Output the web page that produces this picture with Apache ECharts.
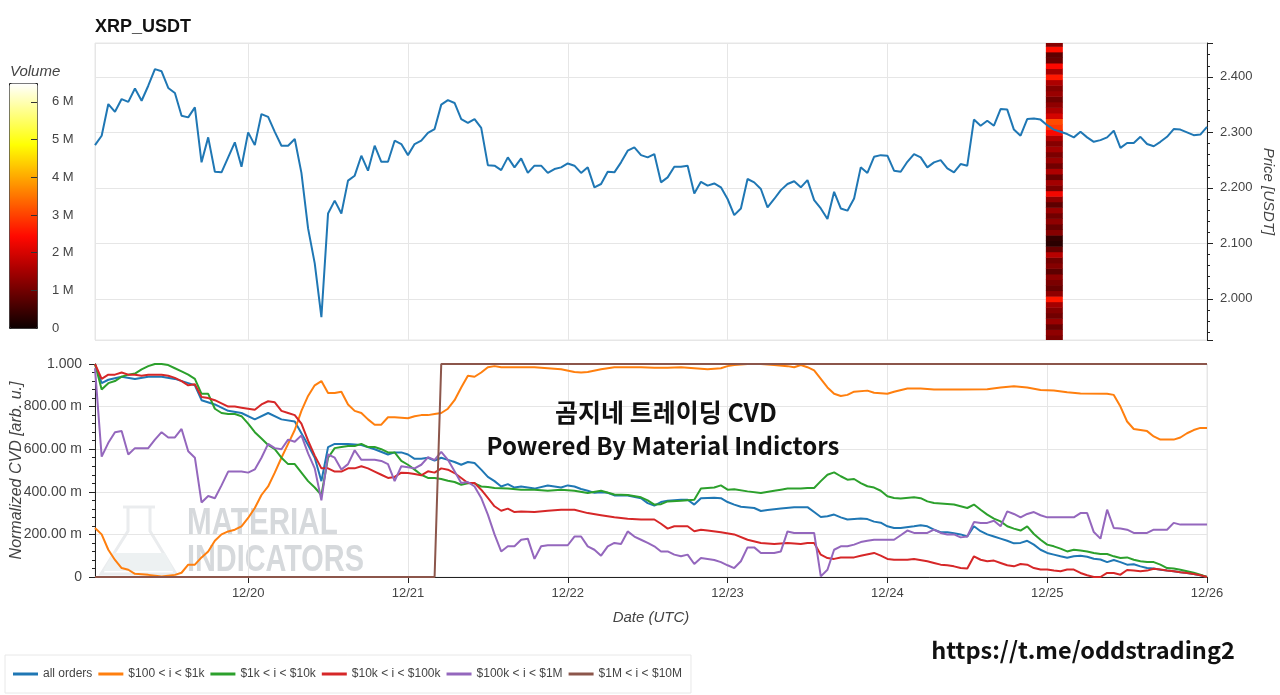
<!DOCTYPE html>
<html>
<head>
<meta charset="utf-8">
<script src="https://cdn.jsdelivr.net/npm/echarts@6.0.0/dist/echarts.min.js"></script>
<style>
  html, body { margin: 0; padding: 0; background: #fff; }
  #chart { width: 1280px; height: 695px; }
</style>
</head>
<body>
<div id="chart"></div>
<script>
// hourly candles start 2024-12-19 01:00 UTC
const START = Date.UTC(2024, 11, 19, 1)
const END = Date.UTC(2024, 11, 26, 0)
const HOUR = 3600 * 1000

// XRP_USDT close, one value per hour
const price = [
  2.277, 2.294, 2.351, 2.337, 2.360, 2.355, 2.379, 2.357, 2.384, 2.414, 2.410, 2.380,
  2.371, 2.330, 2.327, 2.345, 2.246, 2.291, 2.229, 2.228, 2.255, 2.282, 2.238, 2.300,
  2.277, 2.333, 2.328, 2.301, 2.276, 2.276, 2.288, 2.227, 2.127, 2.064, 1.967, 2.154,
  2.177, 2.154, 2.213, 2.222, 2.258, 2.231, 2.276, 2.247, 2.247, 2.285, 2.279, 2.259,
  2.279, 2.285, 2.299, 2.306, 2.350, 2.358, 2.353, 2.324, 2.317, 2.324, 2.308, 2.241,
  2.240, 2.232, 2.255, 2.237, 2.253, 2.227, 2.240, 2.240, 2.227, 2.234, 2.237, 2.244,
  2.240, 2.227, 2.237, 2.201, 2.207, 2.229, 2.228, 2.246, 2.267, 2.273, 2.259, 2.255,
  2.261, 2.210, 2.219, 2.238, 2.238, 2.240, 2.190, 2.211, 2.204, 2.208, 2.201, 2.180,
  2.151, 2.163, 2.216, 2.210, 2.198, 2.165, 2.180, 2.196, 2.207, 2.212, 2.201, 2.214,
  2.178, 2.163, 2.144, 2.193, 2.163, 2.159, 2.181, 2.237, 2.227, 2.256, 2.259, 2.258,
  2.231, 2.229, 2.247, 2.261, 2.255, 2.237, 2.246, 2.250, 2.235, 2.228, 2.243, 2.240,
  2.323, 2.312, 2.321, 2.312, 2.342, 2.341, 2.305, 2.294, 2.324, 2.325, 2.323, 2.313,
  2.305, 2.301, 2.297, 2.291, 2.301, 2.291, 2.283, 2.286, 2.291, 2.303, 2.272, 2.281,
  2.281, 2.292, 2.279, 2.275, 2.283, 2.292, 2.306, 2.305, 2.300, 2.295, 2.296, 2.310
]

// volume profile column (price level centre, volume)
const heatSpan = ['2024-12-24T23:48:00Z', '2024-12-25T02:21:00Z']
const volLevels = [
  1.93, 1.94, 1.95, 1.96, 1.97, 1.98, 1.99, 2.00, 2.01, 2.02, 2.03, 2.04, 2.05, 2.06,
  2.07, 2.08, 2.09, 2.10, 2.11, 2.12, 2.13, 2.14, 2.15, 2.16, 2.17, 2.18, 2.19, 2.20,
  2.21, 2.22, 2.23, 2.24, 2.25, 2.26, 2.27, 2.28, 2.29, 2.30, 2.31, 2.32, 2.33, 2.34,
  2.35, 2.36, 2.37, 2.38, 2.39, 2.40, 2.41, 2.42, 2.43, 2.44, 2.45, 2.46
]
const volumes = [
  1.1, 1.3, 0.9, 1.4, 1.0, 1.2, 1.5, 2.6, 1.3, 0.9, 1.1, 1.3, 0.8, 1.2,
  1.0, 1.7, 0.9, 0.3, 0.4, 1.2, 0.9, 1.3, 1.0, 1.4, 0.8, 1.3, 2.3, 1.1,
  1.5, 0.9, 1.6, 1.0, 1.4, 1.1, 1.5, 1.2, 1.6, 2.4, 2.9, 3.1, 2.0, 1.6,
  1.3, 1.0, 1.4, 1.2, 1.6, 2.6, 1.5, 2.4, 0.9, 0.8, 2.5, 1.2
].map(v => v * 1e6)

// normalized CVD, [hour since START, value]
const allOrders = [[0,1.0],[1,0.91],[2,0.926],[4,0.94],[6,0.93],[8,0.94],[10,0.94],[12,0.93],[14,0.91],[15,0.9],[16,0.83],[18,0.81],[20,0.78],[22,0.77],[24,0.74],[26,0.77],[28,0.74],[30,0.73],[32,0.62],[33,0.56],[34,0.45],[35,0.61],[36,0.625],[38,0.625],[40,0.62],[42,0.60],[44,0.575],[45,0.585],[46,0.585],[47,0.575],[48,0.555],[49,0.555],[50,0.56],[51,0.546],[52,0.56],[53,0.55],[54,0.54],[55,0.527],[56,0.54],[57,0.535],[58,0.504],[59,0.47],[60,0.45],[61,0.425],[62,0.436],[63,0.42],[64,0.425],[66,0.415],[68,0.43],[70,0.42],[71,0.43],[72,0.425],[73,0.413],[74,0.405],[75,0.395],[76,0.398],[77,0.395],[78,0.383],[80,0.383],[82,0.37],[83,0.347],[84,0.335],[85,0.352],[86,0.358],[88,0.363],[89,0.363],[90,0.34],[91,0.37],[93,0.372],[94,0.37],[95,0.352],[96,0.34],[97,0.33],[99,0.324],[100,0.31],[101,0.315],[103,0.322],[105,0.328],[107,0.328],[108,0.305],[109,0.282],[110,0.285],[111,0.293],[112,0.28],[113,0.27],[115,0.275],[116,0.272],[117,0.26],[118,0.255],[119,0.238],[120,0.23],[121,0.23],[123,0.238],[124,0.243],[125,0.238],[126,0.222],[127,0.21],[128,0.21],[129,0.205],[130,0.2],[131,0.19],[132,0.238],[133,0.215],[134,0.2],[135,0.19],[136,0.18],[137,0.17],[138,0.158],[139,0.16],[140,0.17],[141,0.152],[142,0.128],[143,0.113],[144,0.105],[145,0.097],[146,0.09],[147,0.097],[148,0.1],[149,0.095],[150,0.086],[151,0.082],[152,0.07],[153,0.08],[154,0.07],[155,0.058],[156,0.06],[157,0.05],[158,0.042],[159,0.04],[160,0.034],[161,0.03],[162,0.027],[163,0.022],[164,0.019],[165,0.014],[166,0.008],[167,0.0]]
const cvd100to1k = [[0,0.23],[1,0.2],[2,0.128],[3,0.08],[4,0.042],[5,0.034],[6,0.015],[8,0.01],[10,0.002],[12,0.01],[13,0.02],[14,0.058],[15,0.058],[16,0.092],[17,0.12],[18,0.17],[19,0.2],[20,0.214],[21,0.222],[22,0.238],[23,0.277],[24,0.324],[25,0.385],[26,0.425],[27,0.49],[28,0.56],[29,0.625],[30,0.69],[31,0.78],[32,0.85],[33,0.9],[34,0.92],[35,0.864],[36,0.864],[37,0.87],[38,0.81],[39,0.78],[40,0.77],[41,0.74],[42,0.715],[43,0.715],[44,0.75],[45,0.75],[46,0.748],[47,0.745],[48,0.755],[49,0.76],[50,0.76],[51,0.765],[52,0.77],[53,0.79],[54,0.83],[55,0.89],[56,0.945],[57,0.94],[58,0.96],[59,0.985],[60,0.99],[61,0.985],[62,0.985],[64,0.985],[66,0.985],[68,0.98],[70,0.975],[72,0.962],[73,0.96],[74,0.962],[76,0.975],[78,0.985],[80,0.985],[82,0.985],[84,0.982],[86,0.982],[88,0.985],[90,0.98],[92,0.975],[94,0.98],[95,0.99],[96,0.995],[98,1.0],[100,1.0],[102,0.995],[104,0.99],[105,0.985],[106,0.995],[107,0.985],[108,0.97],[109,0.93],[110,0.89],[111,0.86],[112,0.85],[113,0.855],[114,0.87],[116,0.875],[117,0.865],[119,0.86],[120,0.87],[122,0.885],[124,0.885],[126,0.88],[130,0.88],[134,0.882],[136,0.89],[138,0.895],[140,0.89],[142,0.878],[144,0.876],[146,0.867],[148,0.862],[152,0.86],[153,0.855],[154,0.80],[155,0.73],[156,0.695],[158,0.685],[159,0.66],[160,0.645],[162,0.645],[163,0.655],[164,0.675],[165,0.69],[166,0.70],[167,0.70]]
const cvd1kto10k = [[0,1.0],[1,0.88],[2,0.91],[3,0.92],[4,0.94],[5,0.95],[6,0.955],[7,0.975],[8,0.99],[9,1.0],[10,1.0],[11,0.995],[12,0.98],[13,0.965],[14,0.95],[15,0.93],[16,0.86],[17,0.86],[18,0.79],[19,0.77],[20,0.765],[21,0.765],[22,0.755],[23,0.72],[24,0.68],[25,0.65],[26,0.62],[27,0.6],[28,0.56],[29,0.53],[30,0.53],[31,0.49],[32,0.45],[33,0.42],[34,0.385],[35,0.56],[36,0.605],[37,0.61],[38,0.615],[39,0.615],[40,0.625],[41,0.61],[42,0.61],[43,0.6],[44,0.585],[45,0.585],[46,0.545],[47,0.527],[48,0.504],[49,0.48],[50,0.465],[51,0.465],[52,0.46],[53,0.452],[54,0.446],[55,0.433],[56,0.44],[57,0.44],[58,0.425],[59,0.422],[60,0.418],[62,0.415],[64,0.41],[66,0.41],[68,0.405],[70,0.41],[72,0.405],[74,0.394],[76,0.405],[78,0.387],[80,0.385],[82,0.374],[83,0.36],[84,0.34],[85,0.342],[86,0.355],[88,0.358],[90,0.363],[91,0.415],[92,0.418],[93,0.42],[94,0.43],[95,0.41],[96,0.412],[98,0.402],[100,0.394],[102,0.405],[103,0.41],[104,0.415],[106,0.415],[107,0.418],[108,0.418],[109,0.45],[110,0.48],[111,0.491],[112,0.473],[113,0.457],[114,0.46],[115,0.441],[116,0.426],[117,0.42],[118,0.405],[119,0.379],[120,0.371],[121,0.368],[123,0.374],[124,0.37],[125,0.355],[126,0.347],[128,0.343],[129,0.34],[130,0.332],[131,0.324],[132,0.34],[133,0.316],[134,0.293],[135,0.274],[136,0.261],[137,0.238],[138,0.227],[139,0.218],[140,0.238],[141,0.202],[142,0.175],[143,0.152],[144,0.144],[145,0.133],[146,0.12],[147,0.128],[148,0.124],[149,0.12],[150,0.113],[151,0.108],[152,0.108],[153,0.097],[154,0.089],[155,0.092],[156,0.081],[157,0.074],[158,0.07],[159,0.07],[160,0.058],[161,0.042],[162,0.04],[163,0.034],[164,0.027],[165,0.02],[166,0.011],[167,0.0]]
const cvd10kto100k = [[0,1.0],[1,0.93],[2,0.95],[3,0.95],[4,0.96],[5,0.95],[6,0.95],[7,0.945],[8,0.95],[10,0.95],[11,0.945],[12,0.935],[13,0.92],[14,0.9],[15,0.905],[16,0.845],[17,0.84],[18,0.83],[19,0.815],[20,0.80],[21,0.80],[22,0.795],[23,0.79],[24,0.785],[25,0.81],[26,0.825],[27,0.82],[28,0.78],[29,0.77],[30,0.76],[31,0.72],[32,0.64],[33,0.57],[34,0.51],[35,0.51],[36,0.495],[37,0.495],[38,0.51],[39,0.51],[40,0.52],[41,0.51],[42,0.495],[43,0.48],[44,0.465],[45,0.47],[46,0.49],[47,0.488],[48,0.484],[49,0.477],[50,0.496],[51,0.49],[52,0.51],[53,0.504],[54,0.488],[55,0.465],[56,0.441],[57,0.441],[58,0.41],[59,0.371],[60,0.332],[61,0.311],[62,0.321],[63,0.305],[64,0.307],[66,0.305],[68,0.311],[70,0.316],[72,0.316],[74,0.3],[76,0.29],[78,0.28],[80,0.274],[82,0.27],[84,0.27],[85,0.25],[86,0.227],[87,0.238],[89,0.238],[90,0.215],[91,0.222],[92,0.218],[94,0.21],[96,0.2],[98,0.175],[100,0.16],[102,0.155],[104,0.16],[106,0.155],[107,0.16],[108,0.16],[109,0.105],[110,0.089],[111,0.085],[112,0.092],[114,0.092],[115,0.1],[117,0.113],[118,0.1],[119,0.085],[120,0.081],[122,0.081],[123,0.085],[125,0.074],[126,0.066],[127,0.058],[128,0.055],[129,0.05],[130,0.042],[131,0.04],[132,0.097],[133,0.081],[134,0.074],[135,0.077],[136,0.066],[137,0.055],[138,0.05],[139,0.061],[140,0.058],[141,0.042],[142,0.035],[143,0.035],[144,0.03],[145,0.027],[146,0.035],[147,0.035],[148,0.019],[149,0.008],[150,0.0],[151,0.0],[152,0.019],[153,0.019],[154,0.011],[155,0.033],[156,0.03],[157,0.027],[158,0.03],[159,0.039],[160,0.035],[161,0.03],[162,0.027],[163,0.022],[164,0.019],[165,0.014],[166,0.008],[167,0.0]]
const cvd100kto1M = [[0,0.98],[1,0.565],[2,0.63],[3,0.68],[4,0.685],[5,0.575],[6,0.605],[7,0.605],[8,0.605],[9,0.645],[10,0.68],[11,0.655],[12,0.655],[13,0.695],[14,0.59],[15,0.56],[16,0.35],[17,0.38],[18,0.37],[19,0.43],[20,0.495],[21,0.495],[22,0.495],[23,0.49],[24,0.505],[25,0.56],[26,0.625],[27,0.605],[28,0.60],[29,0.645],[30,0.635],[31,0.665],[32,0.58],[33,0.51],[34,0.36],[35,0.575],[36,0.56],[37,0.505],[38,0.53],[39,0.595],[40,0.55],[41,0.55],[42,0.55],[43,0.545],[44,0.53],[45,0.45],[46,0.52],[47,0.515],[48,0.51],[49,0.527],[50,0.562],[51,0.55],[52,0.587],[53,0.55],[54,0.496],[55,0.441],[56,0.446],[57,0.425],[58,0.371],[59,0.293],[60,0.2],[61,0.12],[62,0.144],[63,0.144],[64,0.175],[65,0.18],[66,0.085],[67,0.144],[68,0.149],[70,0.149],[71,0.149],[72,0.19],[73,0.19],[74,0.144],[75,0.128],[76,0.1],[77,0.144],[78,0.16],[79,0.155],[80,0.214],[81,0.19],[82,0.175],[83,0.16],[84,0.144],[85,0.12],[86,0.12],[87,0.105],[88,0.097],[89,0.105],[90,0.061],[91,0.089],[92,0.085],[93,0.08],[94,0.07],[95,0.055],[96,0.042],[97,0.074],[98,0.139],[99,0.139],[100,0.113],[101,0.113],[102,0.113],[103,0.12],[104,0.214],[105,0.207],[106,0.207],[107,0.207],[108,0.207],[109,0.003],[110,0.034],[111,0.128],[112,0.144],[113,0.144],[114,0.152],[115,0.164],[116,0.17],[117,0.175],[120,0.175],[121,0.196],[122,0.218],[123,0.207],[125,0.207],[126,0.222],[127,0.207],[128,0.2],[129,0.2],[130,0.186],[131,0.19],[132,0.258],[133,0.254],[134,0.254],[135,0.264],[136,0.238],[137,0.308],[138,0.296],[139,0.28],[140,0.296],[141,0.305],[142,0.29],[143,0.28],[147,0.28],[148,0.3],[149,0.3],[150,0.211],[151,0.18],[152,0.316],[153,0.23],[154,0.228],[155,0.222],[156,0.207],[158,0.207],[159,0.222],[161,0.222],[162,0.254],[163,0.246],[167,0.246]]
const cvd1Mto10M = [[0,0],[51,0],[52,1],[167,1]]

const cvdNames = ['all orders', '$100 < i < $1k', '$1k < i < $10k', '$10k < i < $100k', '$100k < i < $1M', '$1M < i < $10M']
const cvdData = [allOrders, cvd100to1k, cvd1kto10k, cvd10kto100k, cvd100kto1M, cvd1Mto10M]
const cvdColors = ['#1f77b4', '#ff7f0e', '#2ca02c', '#d62728', '#9467bd', '#8c564b']

// matplotlib 'hot'
const hotColors = ['#0b0000', '#5e0000', '#b00000', '#ff0800', '#ff5a00', '#ffad00', '#ffff03', '#ffff80', '#ffffff']

const axisGrey = '#444'
const gridGrey = '#e6e6e6'
const font = '"Liberation Sans", Arial, Helvetica, sans-serif'
const wmFont = 'bold 37px "Liberation Sans Narrow", "Liberation Sans", sans-serif'

const chart = echarts.init(document.getElementById('chart'))

const fmtDay = v => {
  const d = new Date(v)
  return (d.getUTCMonth() + 1) + '/' + d.getUTCDate()
}
const fmtCvd = v => {
  if (Math.abs(v) < 1e-9) return '0'
  if (Math.abs(v - 1) < 1e-9) return '1.000'
  return (v * 1000).toFixed(2) + ' m'
}

const heatData = volLevels.map((p, i) => [
  new Date(heatSpan[0]).getTime(), new Date(heatSpan[1]).getTime(), p - 0.005, p + 0.005, volumes[i]
])

const cvdSeries = cvdData.map((d, i) => ({
  name: cvdNames[i],
  type: 'line',
  xAxisIndex: 1,
  yAxisIndex: 1,
  symbol: 'none',
  z: 3 + i * 0.1,
  lineStyle: { width: 2, color: cvdColors[i] },
  itemStyle: { color: cvdColors[i] },
  data: d.map(p => [START + p[0] * HOUR, p[1]])
}))

chart.setOption({
  animation: false,
  useUTC: true,
  textStyle: { fontFamily: font },
  title: {
    text: 'XRP_USDT',
    left: 95,
    top: 18,
    padding: 0,
    textStyle: { fontSize: 18, fontWeight: 'bold', color: '#111', fontFamily: font }
  },
  grid: [
    { left: 95, top: 43, width: 1112, height: 297, show: true, borderColor: gridGrey, borderWidth: 1, outerBoundsMode: 'none' },
    { left: 95, top: 364, width: 1112, height: 213, show: true, borderColor: gridGrey, borderWidth: 1, outerBoundsMode: 'none' },
    // colour bar tick strip (right edge of the bar)
    { left: 31, top: 83, width: 6, height: 245, outerBoundsMode: 'none' }
  ],
  xAxis: [
    {
      type: 'time', gridIndex: 0, min: START, max: END, splitNumber: 7,
      axisLine: { show: false }, axisTick: { show: false }, axisLabel: { show: false },
      splitLine: { show: true, lineStyle: { color: gridGrey } }
    },
    {
      type: 'time', gridIndex: 1, min: START, max: END, splitNumber: 7,
      axisLine: { lineStyle: { color: '#222' } },
      axisTick: { show: true, length: 6, lineStyle: { color: '#222' } },
      axisLabel: { formatter: fmtDay, color: axisGrey, fontSize: 13, margin: 10, hideOverlap: false, showMaxLabel: true },
      splitLine: { show: true, lineStyle: { color: gridGrey } },
      name: 'Date (UTC)', nameLocation: 'middle', nameGap: 33, nameMoveOverlap: false,
      nameTextStyle: { fontStyle: 'italic', fontSize: 15, color: axisGrey }
    },
    { type: 'value', gridIndex: 2, show: false, min: 0, max: 1 }
  ],
  yAxis: [
    {
      type: 'value', gridIndex: 0, position: 'right', min: 1.926, max: 2.461, splitNumber: 5,
      axisLine: { show: true, lineStyle: { color: '#222' } },
      axisTick: { show: true, length: 6, lineStyle: { color: '#222' } },
      minorTick: { show: true, splitNumber: 5, length: 3, lineStyle: { color: '#222' } },
      axisLabel: { formatter: v => v.toFixed(3), color: axisGrey, fontSize: 13, margin: 13, showMinLabel: false, showMaxLabel: false },
      splitLine: { show: true, lineStyle: { color: gridGrey } },
      name: 'Price [USDT]', nameLocation: 'middle', nameRotate: -90, nameGap: 54, nameMoveOverlap: false,
      nameTextStyle: { fontStyle: 'italic', fontSize: 15, color: axisGrey }
    },
    {
      type: 'value', gridIndex: 1, min: 0, max: 1, interval: 0.2,
      axisLine: { show: true, lineStyle: { color: '#222' } },
      axisTick: { show: true, length: 6, lineStyle: { color: '#222' } },
      minorTick: { show: true, splitNumber: 5, length: 3, lineStyle: { color: '#222' } },
      axisLabel: { formatter: fmtCvd, color: axisGrey, fontSize: 14, margin: 13 },
      splitLine: { show: true, lineStyle: { color: gridGrey } },
      name: 'Normalized CVD [arb. u.]', nameLocation: 'middle', nameRotate: 90, nameGap: 70, nameMoveOverlap: false,
      nameTextStyle: { fontStyle: 'italic', fontSize: 16, color: axisGrey }
    },
    {
      type: 'value', gridIndex: 2, position: 'right', min: 0, max: 6.5e6, interval: 1e6, z: 10,
      axisLine: { show: false },
      axisTick: { show: false },
      axisLabel: { formatter: v => (v === 0 ? '0' : (v / 1e6) + ' M'), color: axisGrey, fontSize: 13, margin: 15, showMaxLabel: false },
      splitLine: {
        show: true,
        showMinLine: false,
        showMaxLine: false,
        lineStyle: { color: '#333', width: 1 }
      }
    }
  ],
  visualMap: {
    type: 'continuous',
    seriesIndex: 1,
    dimension: 4,
    min: 0,
    max: 6.5e6,
    left: 9,
    top: 83,
    itemWidth: 28,
    itemHeight: 245,
    padding: 0,
    z: 1,
    calculable: false,
    hoverLink: false,
    text: null,
    borderColor: '#222',
    borderWidth: 1,
    inRange: { color: hotColors }
  },
  legend: {
    data: cvdNames,
    left: 5,
    top: 655,
    padding: [12, 9, 12, 8],
    icon: 'rect',
    itemWidth: 25,
    itemHeight: 3,
    itemGap: 6,
    borderColor: '#e8e8e8',
    borderWidth: 1,
    textStyle: { fontSize: 12, color: axisGrey, fontFamily: font, lineHeight: 14 }
  },
  graphic: [
    { type: 'text', x: 10, y: 72, silent: true,
      style: { text: 'Volume', font: 'italic 15px "Liberation Sans", Arial, sans-serif', fill: axisGrey,
        verticalAlign: 'middle', textVerticalAlign: 'middle' } },
    {
      type: 'group', z: 1, silent: true,
      children: [
        { type: 'polyline', shape: { points: [[128, 508], [128, 531], [101, 574], [176, 574], [150, 531], [150, 508]] },
          style: { stroke: '#eaecee', lineWidth: 3, fill: null } },
        { type: 'line', shape: { x1: 123, y1: 507, x2: 155, y2: 507 }, style: { stroke: '#eaecee', lineWidth: 3 } },
        { type: 'polygon', shape: { points: [[113, 553], [165, 553], [174, 571], [103, 571]] },
          style: { fill: '#edf1f2' } },
        { type: 'text', x: 187, y: 524, scaleX: 0.8,
          style: { text: 'MATERIAL', font: wmFont, fill: '#d6d9dc', verticalAlign: 'middle', textVerticalAlign: 'middle' } },
        { type: 'text', x: 187, y: 561, scaleX: 0.78,
          style: { text: 'INDICATORS', font: wmFont, fill: '#d6d9dc', verticalAlign: 'middle', textVerticalAlign: 'middle' } }
      ]
    },
    { type: 'text', x: 666, y: 412, z: 20, silent: true,
      style: { text: '곰지네 트레이딩 CVD', font: 'bold 25px "Noto Sans CJK KR", sans-serif', fill: '#111',
        align: 'center', verticalAlign: 'middle', textAlign: 'center', textVerticalAlign: 'middle' } },
    { type: 'text', x: 663, y: 446, z: 20, silent: true,
      style: { text: 'Powered By Material Indictors', font: 'bold 24px "Noto Sans CJK KR", sans-serif', fill: '#111',
        align: 'center', verticalAlign: 'middle', textAlign: 'center', textVerticalAlign: 'middle' } },
    { type: 'text', x: 1083, y: 650, z: 20, silent: true,
      style: { text: 'https://t.me/oddstrading2', font: 'bold 23.5px "Noto Sans CJK KR", "Noto Sans", sans-serif', fill: '#111',
        align: 'center', verticalAlign: 'middle', textAlign: 'center', textVerticalAlign: 'middle' } }
  ],
  series: [
    {
      name: 'price',
      type: 'line',
      xAxisIndex: 0,
      yAxisIndex: 0,
      symbol: 'none',
      z: 4,
      lineStyle: { width: 2, color: '#1f77b4' },
      data: price.map((v, i) => [START + i * HOUR, v])
    },
    {
      name: 'volume',
      type: 'custom',
      xAxisIndex: 0,
      yAxisIndex: 0,
      z: 2,
      clip: true,
      encode: { x: [0, 1], y: [2, 3] },
      renderItem: (params, api) => {
        const a = api.coord([api.value(0), api.value(3)])
        const b = api.coord([api.value(1), api.value(2)])
        return {
          type: 'rect',
          shape: { x: a[0], y: a[1], width: b[0] - a[0], height: b[1] - a[1] + 0.5 },
          style: { fill: api.visual('color') }
        }
      },
      data: heatData
    },
    ...cvdSeries
  ]
})
</script>
</body>
</html>
